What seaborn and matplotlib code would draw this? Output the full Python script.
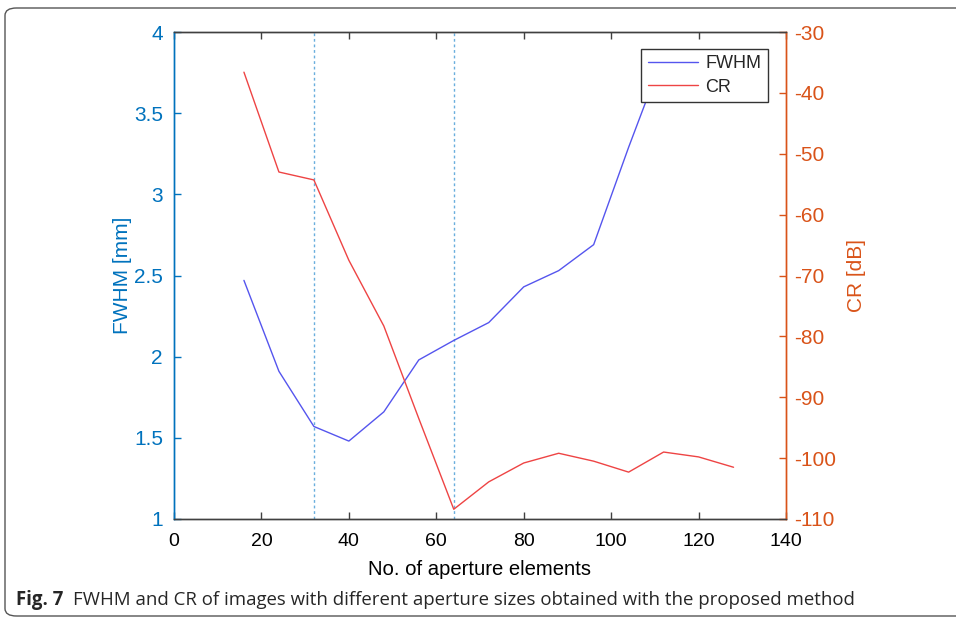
import matplotlib
matplotlib.use("Agg")
import matplotlib.pyplot as plt
import seaborn as sns
import pandas as pd
from matplotlib.patches import FancyBboxPatch

# ---- data ----
aperture = [16, 24, 32, 40, 48, 56, 64, 72, 80, 88, 96, 104, 112, 120, 128]
fwhm = [2.47, 1.91, 1.57, 1.48, 1.66, 1.98, 2.10, 2.21, 2.43, 2.53, 2.69, 3.29, 3.86, 3.78, 3.84]
cr = [-36.6, -53.0, -54.3, -67.5, -78.3, -93.5, -108.4, -103.9, -100.8, -99.2,
      -100.5, -102.3, -99.0, -99.8, -101.5]
markers_x = [32, 64]
xticks = [0, 20, 40, 60, 80, 100, 120, 140]
left_ticks = [1, 1.5, 2, 2.5, 3, 3.5, 4]
left_labels = ["1", "1.5", "2", "2.5", "3", "3.5", "4"]
right_ticks = [-110, -100, -90, -80, -70, -60, -50, -40, -30]

df = pd.DataFrame({"aperture": aperture, "FWHM": fwhm, "CR": cr})

sns.set_style("white")
plt.rcParams["font.family"] = ["Liberation Sans", "DejaVu Sans"]
plt.rcParams["axes.unicode_minus"] = False

BLUE_AX = "#0072BD"
ORANGE_AX = "#D95319"
FWHM_C = "#5555EE"
CR_C = "#EE4444"
DARK = "#404040"

fig = plt.figure(figsize=(9.56, 6.2), dpi=100)
ax = fig.add_axes([174 / 956, 1 - 519 / 620, (786 - 174) / 956, (519 - 32) / 620])
ax2 = ax.twinx()

for xv in markers_x:
    ax.axvline(xv, ls=(0, (2, 2)), color="#6AAEDD", lw=1.0, zorder=1)

sns.lineplot(data=df, x="aperture", y="FWHM", ax=ax, color=FWHM_C, lw=1.0, zorder=3)
sns.lineplot(data=df, x="aperture", y="CR", ax=ax2, color=CR_C, lw=1.0, zorder=3)

ax.set_xlim(0, 140)
ax.set_ylim(1, 4)
ax2.set_ylim(-110, -30)
ax.set_xticks(xticks)
ax.set_yticks(left_ticks)
ax.set_yticklabels(left_labels)
ax2.set_yticks(right_ticks)

ax.set_xlabel("No. of aperture elements", fontsize=14.6, color="black", labelpad=7)
ax.set_ylabel("FWHM [mm]", fontsize=15, color=BLUE_AX, labelpad=1)
ax2.set_ylabel("CR [dB]", fontsize=15, color=ORANGE_AX, labelpad=8)

ax.tick_params(axis="x", direction="in", top=True, bottom=True, length=5,
               labelsize=14, colors=DARK, labelcolor="black", width=1, pad=10)
ax.tick_params(axis="y", direction="in", left=True, length=5, labelsize=15,
               colors=BLUE_AX, width=1, pad=8)
ax2.tick_params(axis="y", direction="in", right=True, length=5, labelsize=15,
                colors=ORANGE_AX, width=1, pad=6)

for a in (ax, ax2):
    for s in a.spines.values():
        s.set_visible(True)
        s.set_linewidth(1.0)
    a.spines["top"].set_color(DARK)
    a.spines["bottom"].set_color(DARK)
    a.spines["left"].set_color(BLUE_AX)
    a.spines["right"].set_color(ORANGE_AX)

h1 = ax.get_lines()[-1]
h2 = ax2.get_lines()[-1]
if ax.get_legend():
    ax.get_legend().remove()
if ax2.get_legend():
    ax2.get_legend().remove()
leg = ax2.legend([h1, h2], ["FWHM", "CR"], loc="upper right",
                 bbox_to_anchor=(0.97, 0.965), fontsize=13, frameon=True,
                 fancybox=False, framealpha=1, edgecolor="#333333",
                 handlelength=2.8, handletextpad=0.4, borderpad=0.35,
                 labelspacing=0.35, borderaxespad=0)
leg.get_frame().set_linewidth(1.0)

# figure frame
frame = FancyBboxPatch((5 / 956, 4 / 620), 1.1, (612 - 4) / 620,
                       boxstyle="round,pad=0,rounding_size=0.012",
                       transform=fig.transFigure, fill=False,
                       edgecolor="#555555", lw=1.0, clip_on=False)
fig.patches.append(frame)

# caption
t1 = fig.text(16 / 956, 1 - 600 / 620, "Fig. 7", fontsize=13.4, fontweight="bold",
              family=["Open Sans", "DejaVu Sans"], va="center", ha="left")
fig.canvas.draw()
bb = t1.get_window_extent()
fig.text((bb.x1 + 10) / 956, 1 - 600 / 620,
         "FWHM and CR of images with different aperture sizes obtained with the proposed method",
         fontsize=13.4, family=["Open Sans", "DejaVu Sans"], va="center", ha="left")

fig.savefig("out.png", dpi=100)
